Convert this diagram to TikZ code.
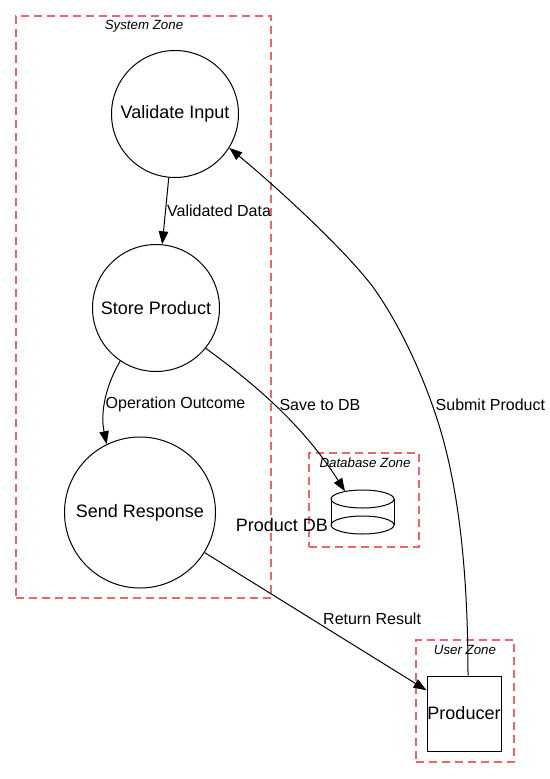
\documentclass[tikz,border=0pt]{standalone}
\usepackage{fontspec}
\setmainfont{Liberation Sans}
\usetikzlibrary{arrows.meta}
\definecolor{zonered}{RGB}{238,102,102}
\begin{document}
\begin{tikzpicture}[x=1pt,y=-1pt,
  zone/.style={draw=zonered, dash pattern=on 8pt off 5pt, line width=1.2pt, inner sep=0, rectangle},
  zonelabel/.style={font=\fontsize{13.3}{15}\selectfont\itshape, inner sep=0},
  nodefont/.style={font=\fontsize{18}{21}\selectfont},
  proc/.style={circle, draw, line width=1pt, nodefont, inner sep=0},
  elabel/.style={font=\fontsize{16}{18}\selectfont, inner sep=0, anchor=west},
  arr/.style={draw, line width=1pt, -{Triangle[length=13pt,width=9.5pt]}},
  thin line/.style={line width=1pt}]
\useasboundingbox (0,0) rectangle (549,779);
\fill[white] (0,0) rectangle (549,779);

% zones
\node[zone, minimum width=255pt, minimum height=582pt] (sz) at (143.5,307) {};
\node[zonelabel] (szl) at (144,26) {System Zone};
\node[zone, minimum width=110pt, minimum height=94pt] (dz) at (364,500) {};
\node[zonelabel] (dzl) at (365,463) {Database Zone};
\node[zone, minimum width=98pt, minimum height=122pt] (uz) at (465,701) {};
\node[zonelabel] (uzl) at (465,650) {User Zone};

% process nodes
\node[proc, minimum size=127pt] (vi) at (175,114) {Validate Input};
\node[proc, minimum size=127pt] (sp) at (156,308) {Store Product};
\node[proc, minimum size=151pt] (sr) at (140,512.5) {Send Response};
\node[draw, line width=1pt, minimum width=74pt, minimum height=75pt, inner sep=0, nodefont] (pr) at (464,713.5) {Producer};

% database cylinder
\node[minimum width=63pt, minimum height=44pt, inner sep=0] (db) at (362.5,512) {};
\draw[thin line] (331,499) -- (331,525) (394,499) -- (394,525);
\draw[thin line, fill=white] (362.5,525) ellipse [x radius=31.5, y radius=9];
\draw[thin line, fill=white] (362.5,499) ellipse [x radius=31.5, y radius=9];
\node[nodefont, inner sep=0, anchor=east] (dbl) at (328,525) {Product DB};

% edges
\draw[arr] (vi) -- (sp);
\node[elabel] (l1) at (167,211) {Validated Data};

\draw[arr] (sp.236) .. controls (106,385) and (100,412) .. (sr.116);
\node[elabel] (l2) at (105.5,404.5) {Operation Outcome};

\draw[arr] (sp.-39) .. controls (245,377) and (300,420) .. ([xshift=-17.5pt,yshift=-1.5pt]db.north);
\node[elabel] (l3) at (279.3,405) {Save to DB};

\draw[arr] (sr) -- (pr);
\node[elabel] (l4) at (323,619) {Return Result};

\draw[arr] ([xshift=4pt]pr.north) .. controls (468,540) and (452,460) .. (433,407)
  .. controls (420,370) and (400,325) .. (373,287)
  .. controls (345,250) and (280,190) .. (vi.-32);
\node[elabel] (l5) at (435.5,405) {Submit Product};
\end{tikzpicture}
\end{document}
